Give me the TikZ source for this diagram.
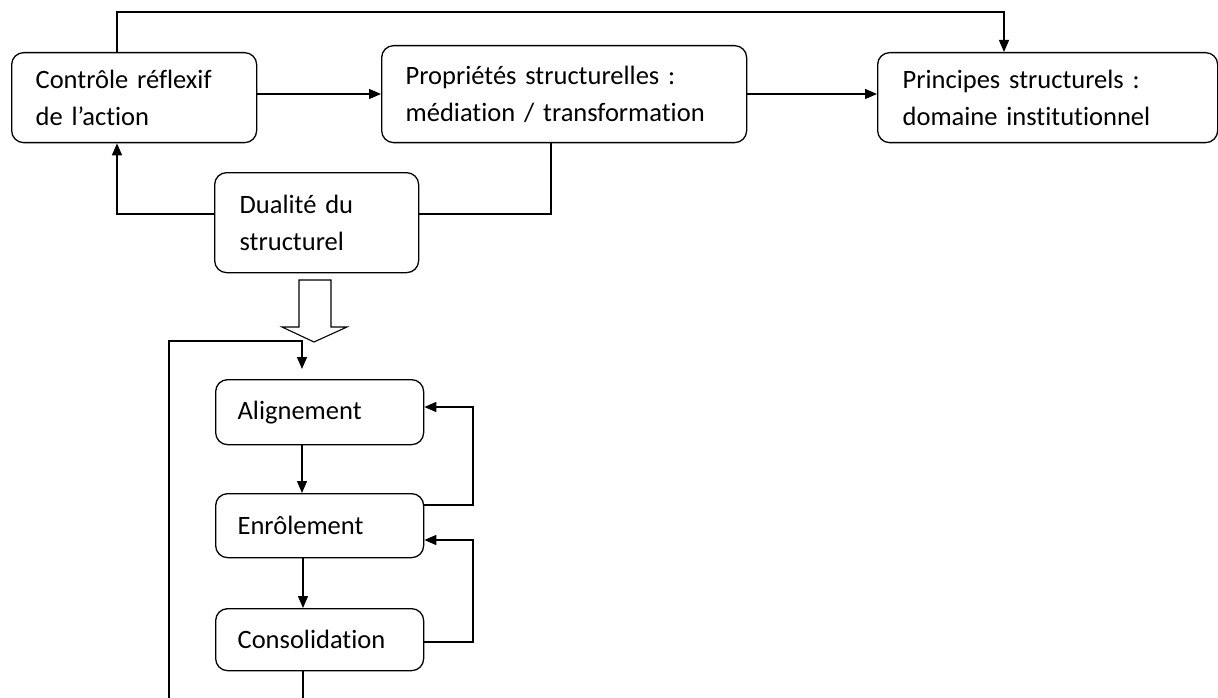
\documentclass[tikz,border=0pt]{standalone}
\usepackage{fontspec}
\setmainfont{Carlito}[Ligatures={NoCommon}]
\usetikzlibrary{arrows.meta,calc}
\begin{document}
\begin{tikzpicture}[x=1pt,y=-1pt,line width=1.3pt,
  box/.style={draw,rounded corners=12pt,align=left,inner xsep=24pt,inner ysep=0pt,
    font=\fontsize{26.5}{37}\selectfont,anchor=north west},
  arr/.style={-{Triangle[length=12pt,width=10pt]}}]
\useasboundingbox (0,0) rectangle (1218,698);
% boxes
\node[box,text width=197pt,minimum height=90pt] (b1) at (11,52) {Contrôle réflexif\\de l’action};
\node[box,text width=317pt,minimum height=97pt] (b2) at (381,45) {Propriétés structurelles :\\médiation / transformation};
\node[box,inner xsep=25pt,text width=290pt,minimum height=90pt] (b3) at (877,52) {Principes structurels :\\domaine institutionnel};
\node[box,inner xsep=25pt,text width=154pt,minimum height=100pt] (b4) at (214,172) {Dualité du\\structurel};
\node[box,inner xsep=22pt,text width=164pt,minimum height=65pt] (al) at (215,379) {Alignement};
\node[box,inner xsep=22pt,text width=164pt,minimum height=64pt] (en) at (215,493) {Enrôlement};
\node[box,inner xsep=22pt,text width=164pt,minimum height=62pt] (co) at (215,608) {Consolidation};
% helper coordinates
\coordinate (c1) at (117,12);
\coordinate (c2) at (1004,12);
\coordinate (y94) at (0,94);
\coordinate (y214) at (0,214);
\coordinate (x551) at (551,0);
\coordinate (fb0) at (169,698);
\coordinate (fb1) at (169,341);
\coordinate (fbEnd) at (302,369);
\coordinate (x302) at (302,0);
\coordinate (x303) at (303,0);
\coordinate (bot) at (303,698);
\coordinate (xr) at (473,0);
\coordinate (y505) at (0,505);
\coordinate (y407) at (0,407);
\coordinate (y642) at (0,642);
\coordinate (y540) at (0,540);
% top connectors
\draw[arr] (b1.north -| c1) |- (c2) -- (b3.north -| c2);
\draw[arr] (b1.east |- y94) -- (b2.west |- y94);
\draw[arr] (b2.east |- y94) -- (b3.west |- y94);
\draw[arr] (b4.west |- y214) -| (b1.south -| c1);
\draw (b2.south -| x551) |- (b4.east |- y214);
% hollow arrow
\draw[line width=1.1pt] (299,280) -- (299,327) -- (282,327) -- (314,342) -- (347,327) -- (331,327) -- (331,280) -- cycle;
% lower flow
\draw[arr] (fb0) |- (fbEnd |- fb1) -- (fbEnd);
\draw[arr] (al.south -| x302) -- (en.north -| x302);
\draw[arr] (en.south -| x303) -- (co.north -| x303);
\draw (co.south -| bot) -- (bot);
\draw[arr] (en.east |- y505) -| (xr |- y407) -- (al.east |- y407);
\draw[arr] (co.east |- y642) -| (xr |- y540) -- (en.east |- y540);
\end{tikzpicture}
\end{document}
